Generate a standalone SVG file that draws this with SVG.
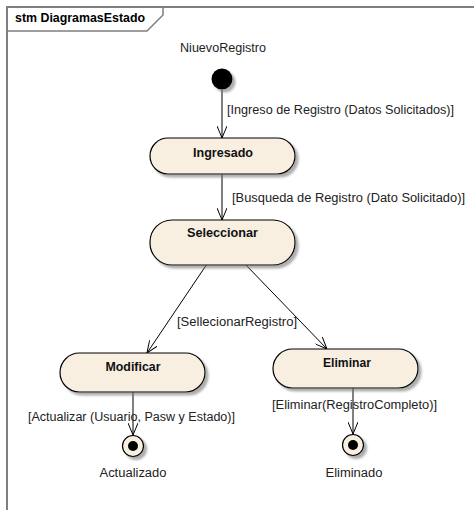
<svg xmlns="http://www.w3.org/2000/svg" width="474" height="510" viewBox="0 0 474 510">
<style>
.frame{fill:none;stroke:#7f7f7f;stroke-width:2}
.tab{fill:none;stroke:#7f7f7f;stroke-width:1.5}
.state{fill:#f8efe1;stroke:#000;stroke-width:1.2}
.name{font-family:"Liberation Sans",Arial,sans-serif;font-weight:bold;font-size:12.5px;fill:#111;text-anchor:middle}
.lbl{font-family:"Liberation Sans",Arial,sans-serif;font-size:12px;fill:#222}
.mid{text-anchor:middle}
.title{font-family:"Liberation Sans",Arial,sans-serif;font-weight:bold;font-size:12px;fill:#000}
.conn{fill:none;stroke:#000;stroke-width:1}
</style>
<defs>
<filter id="sh" x="-20%" y="-20%" width="150%" height="160%">
<feDropShadow dx="3" dy="3" stdDeviation="1.2" flood-color="#777" flood-opacity="0.6"/>
</filter>
<marker id="arr" viewBox="0 0 12 10" refX="12" refY="5" markerWidth="12" markerHeight="10" markerUnits="userSpaceOnUse" orient="auto">
<path d="M0,0 L12,5 L0,10" fill="none" stroke="#000" stroke-width="1"/>
</marker>
</defs>
<rect width="474" height="510" fill="#fff"/>
<g id="frame">
<path class="frame" d="M7,510 L7,7 L474,7"/>
<path class="tab" d="M7,31 L147,31 L163,15 L163,7"/>
<text class="title" x="15" y="22" textLength="130" lengthAdjust="spacingAndGlyphs">stm DiagramasEstado</text>
</g>
<g id="connectors">
<line class="conn" x1="222" y1="90" x2="222" y2="138" marker-end="url(#arr)"/>
<line class="conn" x1="222" y1="174" x2="222" y2="220" marker-end="url(#arr)"/>
<line class="conn" x1="207" y1="264" x2="147" y2="353" marker-end="url(#arr)"/>
<line class="conn" x1="245" y1="264" x2="327" y2="349" marker-end="url(#arr)"/>
<line class="conn" x1="133" y1="392" x2="133" y2="435" marker-end="url(#arr)"/>
<line class="conn" x1="353" y1="388" x2="353" y2="434" marker-end="url(#arr)"/>
<text class="lbl" x="227" y="114" textLength="227" lengthAdjust="spacingAndGlyphs">[Ingreso de Registro (Datos Solicitados)]</text>
<text class="lbl" x="232" y="202" textLength="233" lengthAdjust="spacingAndGlyphs">[Busqueda de Registro (Dato Solicitado)]</text>
<text class="lbl" x="177" y="326" textLength="120" lengthAdjust="spacingAndGlyphs">[SellecionarRegistro]</text>
<text class="lbl" x="28" y="421" textLength="207" lengthAdjust="spacingAndGlyphs">[Actualizar (Usuario, Pasw y Estado)]</text>
<text class="lbl" x="272" y="409" textLength="165" lengthAdjust="spacingAndGlyphs">[Eliminar(RegistroCompleto)]</text>
</g>
<g id="NiuevoRegistro">
<circle cx="222" cy="79" r="10.5" fill="#000" filter="url(#sh)"/>
<text class="lbl mid" x="223" y="52" textLength="86" lengthAdjust="spacingAndGlyphs">NiuevoRegistro</text>
</g>
<g id="Ingresado">
<rect class="state" x="150" y="138" width="145" height="36" rx="18" filter="url(#sh)"/>
<text class="name" x="223" y="156.5" textLength="60" lengthAdjust="spacingAndGlyphs">Ingresado</text>
</g>
<g id="Seleccionar">
<rect class="state" x="150" y="220" width="145" height="45" rx="22" filter="url(#sh)"/>
<text class="name" x="222.5" y="237" textLength="71" lengthAdjust="spacingAndGlyphs">Seleccionar</text>
</g>
<g id="Modificar">
<rect class="state" x="60" y="353" width="145" height="39" rx="19.5" filter="url(#sh)"/>
<text class="name" x="133" y="371" textLength="55" lengthAdjust="spacingAndGlyphs">Modificar</text>
</g>
<g id="Eliminar">
<rect class="state" x="273" y="349" width="145" height="39" rx="19.5" filter="url(#sh)"/>
<text class="name" x="347" y="366.5" textLength="48" lengthAdjust="spacingAndGlyphs">Eliminar</text>
</g>
<g id="Actualizado">
<circle cx="133" cy="446" r="10.5" fill="#f8efe1" stroke="#000" stroke-width="1.2" filter="url(#sh)"/>
<circle cx="133" cy="446" r="5" fill="#000"/>
<text class="lbl mid" x="133" y="477" textLength="67" lengthAdjust="spacingAndGlyphs">Actualizado</text>
</g>
<g id="Eliminado">
<circle cx="353" cy="445" r="10.5" fill="#f8efe1" stroke="#000" stroke-width="1.2" filter="url(#sh)"/>
<circle cx="353" cy="445" r="5" fill="#000"/>
<text class="lbl mid" x="354" y="477" textLength="57" lengthAdjust="spacingAndGlyphs">Eliminado</text>
</g>
</svg>
